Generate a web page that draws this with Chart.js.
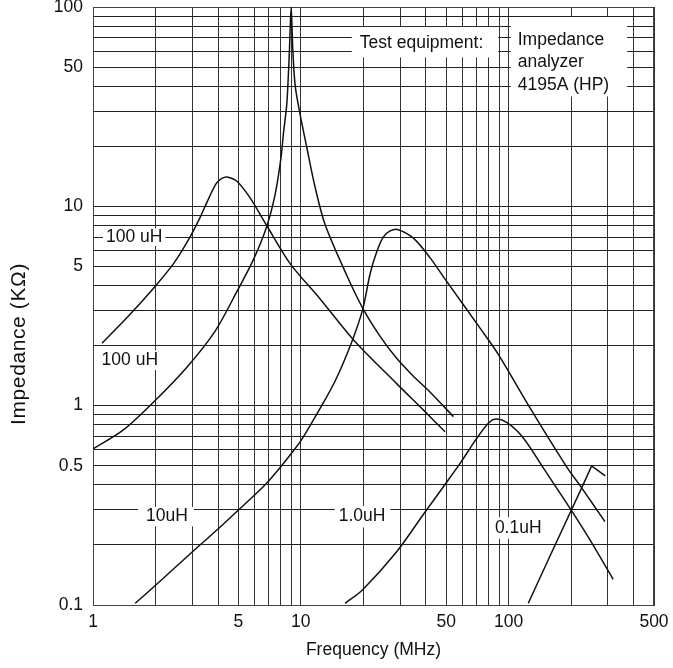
<!DOCTYPE html>
<html>
<head>
<meta charset="utf-8">
<script src="https://cdn.jsdelivr.net/npm/chart.js@4/dist/chart.umd.min.js"></script>
<style>
html,body{margin:0;padding:0;background:#fff;}
#wrap{width:673px;height:668px;}
</style>
</head>
<body>
<div id="wrap"><canvas id="c" width="673" height="668"></canvas></div>
<script>
// ---- tick / grid values ----
const xGrid = [1,2,3,4,5,6,7,8,9,10,20,30,40,50,60,70,80,90,100,200,300,400,500];
const xLabeled = [1,5,10,50,100,500];
const yGrid = [0.1,0.2,0.3,0.4,0.5,0.6,0.7,0.8,0.9,1,2,3,4,5,6,7,8,9,10,20,30,40,50,60,70,80,90,100];
const yLabeled = [0.1,0.5,1,5,10,50,100];

// ---- series (frequency MHz, impedance kOhm) ----
// 100 uH, broad resonance
const freqA = [1.105, 1.478, 1.97, 2.44, 2.91, 3.28, 3.60, 3.92, 4.17, 4.41, 4.92, 5.70, 6.86, 8.88, 12.38, 17.84, 28.9, 38.9, 49.4];
const impA  = [2.06, 2.81, 3.92, 5.16, 6.93, 8.83, 10.94, 13.04, 13.81, 14.04, 13.36, 11.02, 7.99, 5.16, 3.43, 2.15, 1.29, 0.95, 0.74];
// 100 uH, sharp resonance
const freqB = [1.00, 1.40, 1.98, 2.83, 3.87, 4.92, 5.92, 6.86, 7.52, 8.01, 8.25, 8.56, 8.81, 8.98, 9.15, 9.39, 9.92, 10.69, 11.72, 13.09, 16.64, 19.93, 24.06, 28.9, 34.7, 41.8, 54.2];
const impB  = [0.607, 0.756, 1.056, 1.56, 2.368, 3.73, 5.42, 7.95, 11.47, 17.31, 23.32, 32.75, 60.4, 100, 60.4, 40.35, 28.87, 19.67, 12.42, 8.08, 4.50, 3.06, 2.227, 1.728, 1.409, 1.171, 0.881];
// 10 uH
const freqC = [1.597, 1.97, 2.91, 3.92, 4.98, 5.92, 6.86, 7.95, 8.88, 10.03, 12.38, 14.62, 17.59, 19.87, 21.54, 23.2, 24.96, 26.88, 29.13, 34.78, 41.8, 50.3, 72.8, 89.1, 126.6, 190, 224.4, 290.4];
const impC  = [0.102, 0.1238, 0.1792, 0.2365, 0.298, 0.352, 0.4095, 0.49, 0.566, 0.669, 0.969, 1.329, 2.094, 3.06, 4.59, 5.93, 7.03, 7.53, 7.66, 6.93, 5.53, 4.20, 2.45, 1.81, 0.974, 0.493, 0.387, 0.262];
// 1.0 uH
const freqD = [16.33, 19.78, 28.9, 39.28, 49.4, 58.8, 68.3, 78.4, 85.3, 97.8, 117.5, 146.7, 197, 246, 318];
const impD  = [0.102, 0.119, 0.185, 0.2895, 0.4025, 0.519, 0.658, 0.80, 0.855, 0.824, 0.689, 0.487, 0.306, 0.212, 0.1346];
// 0.1 uH
const freqE = [124.2, 158, 224.4, 250.6, 291.3];
const impE  = [0.102, 0.176, 0.387, 0.498, 0.444];

// ---- text annotations ----
const noteText = [['100 uH'], ['100 uH'], ['10uH'], ['1.0uH'], ['0.1uH'], ['Test equipment:'], ['Impedance', 'analyzer', '4195A (HP)']];
const noteFreq = [1.155, 1.10, 1.80, 15.2, 85.8, 19.2, 110.5];
const noteImp  = [7.0, 1.69, 0.2775, 0.2775, 0.2434, 66.2, 68.5];
// box padding [left, right, top, bottom] in px (style)
const notePad = [[3,3,0,0],[2,3,1,1],[8,6,1,1],[4,5,2,2],[5,4,2,2],[8,15,7,6],[7,18,14,3]];

const FONT = "'Liberation Sans', Arial, Helvetica, sans-serif";
const FS = 17.5;
const LINE_GAP = 22.5;

const pts = (f, z) => f.map((v, i) => ({x: v, y: z[i]}));
const curveStyle = {borderColor: '#111', borderWidth: 1.5, pointRadius: 0, fill: false, cubicInterpolationMode: 'default', tension: 0.3};

const annotPlugin = {
  id: 'annot',
  beforeDatasetsDraw(chart) {
    const {ctx, chartArea: a, scales: {x, y}} = chart;
    ctx.save();
    ctx.strokeStyle = '#444';
    ctx.lineWidth = 1;
    ctx.strokeRect(a.left + 0.5, a.top + 0.5, a.right - a.left - 1, a.bottom - a.top);
    ctx.font = FS + 'px ' + FONT;
    ctx.textBaseline = 'middle';
    ctx.textAlign = 'left';
    noteText.forEach((lines, i) => {
      const px = x.getPixelForValue(noteFreq[i]);
      const py = y.getPixelForValue(noteImp[i]);
      const w = Math.max(...lines.map(s => ctx.measureText(s).width));
      const [pl, pr, pt, pb] = notePad[i];
      const top = py - FS / 2 - pt;
      const h = FS + (lines.length - 1) * LINE_GAP + pt + pb;
      ctx.fillStyle = '#fff';
      ctx.fillRect(px - pl, top, w + pl + pr, h);
      ctx.fillStyle = '#111';
      lines.forEach((s, k) => ctx.fillText(s, px, py + k * LINE_GAP));
    });
    ctx.restore();
  },
  afterDraw(chart) {
    const {ctx} = chart;
    ctx.save();
    ctx.font = '21px ' + FONT;
    ctx.fillStyle = '#111';
    ctx.textAlign = 'center';
    ctx.textBaseline = 'middle';
    const label = 'Impedance (K\u03A9)';
    const w = ctx.measureText(label).width;
    const target = 162;
    if ('letterSpacing' in ctx && w < target) {
      ctx.letterSpacing = ((target - w) / label.length).toFixed(2) + 'px';
    }
    ctx.translate(19, 344);
    ctx.rotate(-Math.PI / 2);
    ctx.fillText(label, 0, 0);
    ctx.restore();
  }
};

new Chart(document.getElementById('c'), {
  type: 'line',
  data: {
    datasets: [
      Object.assign({label: '100 uH a', data: pts(freqA, impA)}, curveStyle),
      Object.assign({label: '100 uH b', data: pts(freqB, impB)}, curveStyle),
      Object.assign({label: '10uH', data: pts(freqC, impC)}, curveStyle),
      Object.assign({label: '1.0uH', data: pts(freqD, impD)}, curveStyle),
      Object.assign({label: '0.1uH', data: pts(freqE, impE)}, curveStyle, {tension: 0})
    ]
  },
  options: {
    responsive: false,
    animation: false,
    devicePixelRatio: 1,
    layout: {padding: {top: 7, right: 19, left: 0, bottom: 0}},
    plugins: {legend: {display: false}, tooltip: {enabled: false}},
    scales: {
      x: {
        type: 'logarithmic',
        min: 1, max: 500,
        afterBuildTicks: s => { s.ticks = xGrid.map(v => ({value: v})); },
        afterFit: s => { s.height = 63; s.paddingLeft = 0; s.paddingRight = 0; },
        ticks: {
          autoSkip: false, maxRotation: 0, minRotation: 0, padding: 7,
          color: '#111', font: {family: FONT, size: FS},
          callback: v => xLabeled.includes(v) ? String(v) : ''
        },
        grid: {color: '#333', lineWidth: 1, drawTicks: false},
        border: {display: true, color: '#444'},
        title: {display: true, text: 'Frequency (MHz)', color: '#111', font: {family: FONT, size: FS}, padding: {top: 0, bottom: 7}}
      },
      y: {
        type: 'logarithmic',
        min: 0.1, max: 100,
        afterBuildTicks: s => { s.ticks = yGrid.map(v => ({value: v})); },
        afterFit: s => { s.width = 93; s.paddingTop = 0; s.paddingBottom = 0; },
        ticks: {
          autoSkip: false, padding: 10,
          color: '#111', font: {family: FONT, size: FS},
          callback: v => yLabeled.includes(v) ? String(v) : ''
        },
        grid: {color: '#222', lineWidth: 1, drawTicks: false},
        border: {display: true, color: '#444'}
      }
    }
  },
  plugins: [annotPlugin]
});
</script>
</body>
</html>
